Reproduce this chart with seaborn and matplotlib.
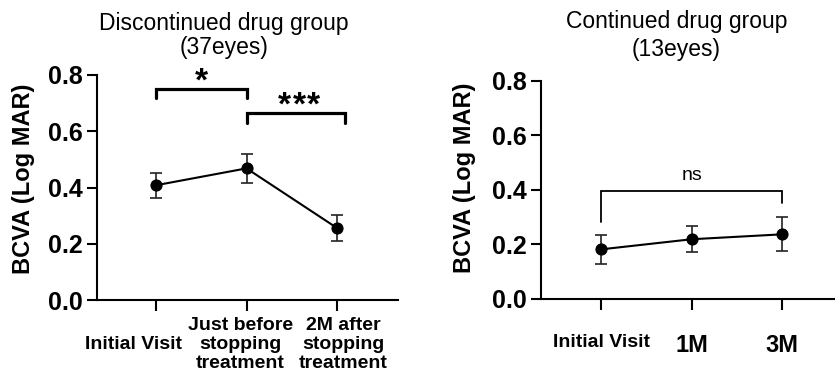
import numpy as np
import pandas as pd
import matplotlib
matplotlib.use("Agg")
import matplotlib.pyplot as plt
import matplotlib.transforms as mtransforms
import seaborn as sns

# ---------------- data ----------------
disc_labels = ["\nInitial Visit", "Just before\nstopping\ntreatment", "2M after\nstopping\ntreatment"]
disc_mean = [0.408, 0.468, 0.256]
disc_err = [0.045, 0.051, 0.046]

cont_labels = ["Initial Visit", "1M", "3M"]
cont_mean = [0.182, 0.219, 0.237]
cont_err = [0.052, 0.048, 0.062]

yticks = [0.0, 0.2, 0.4, 0.6, 0.8]
ylabel = "BCVA (Log MAR)"
title_left = ["Discontinued drug group", "(37eyes)"]
title_right = ["Continued drug group", "(13eyes)"]

# significance annotations: (start idx, end idx, bar y, leg y, number of stars, text x, text y)
sig_left = [(0, 1.0, 0.749, 0.717, 1, 0.5, 0.743),
            (1, 2.09, 0.664, 0.628, 3, 1.58, 0.661)]
sig_right = [(0, 2, 0.397, 0.283, 0.350, "ns", 0.436)]

# ---------------- style ----------------
sns.set_style("ticks")
plt.rcParams["font.family"] = ["Liberation Sans", "DejaVu Sans"]
plt.rcParams["axes.linewidth"] = 1.5
for k in ["text.color", "axes.labelcolor", "xtick.color", "ytick.color", "axes.edgecolor"]:
    plt.rcParams[k] = "black"

fig = plt.figure(figsize=(8.35, 3.82), dpi=100)
axL = fig.add_axes([97/835, 1-300/382, 301/835, 225/382])
axR = fig.add_axes([541/835, 1-299/382, 294/835, 218.3/382])


def draw(ax, means, errs):
    df = pd.DataFrame({"x": np.arange(len(means)), "y": means})
    sns.lineplot(data=df, x="x", y="y", ax=ax, color="black", lw=1.5,
                 marker="o", markersize=8, markeredgecolor="black", zorder=3)
    ax.errorbar(df["x"], df["y"], yerr=errs, fmt="none", ecolor="#222222",
                elinewidth=1.2, capsize=4, capthick=1.2, zorder=2)
    ax.set_ylim(0, 0.8)
    ax.set_yticks(yticks)
    ax.set_yticklabels([f"{v:.1f}" for v in yticks], fontsize=18, fontweight="bold")
    ax.set_xlabel("")
    ax.set_ylabel("")
    ax.tick_params(axis="y", length=7, width=1.5, pad=3)
    sns.despine(ax=ax)


draw(axL, disc_mean, disc_err)
draw(axR, cont_mean, cont_err)

axL.set_xlim(-0.652, 2.674)
axR.set_xlim(-0.667, 2.585)

# x tick labels
axL.set_xticks(range(len(disc_labels)))
axL.set_xticklabels(disc_labels, fontsize=14, fontweight="bold", linespacing=1.15)
axL.tick_params(axis="x", length=8, width=1.5, pad=4)
for lab, dx in zip(axL.get_xticklabels(), [-23, -6, 6]):
    lab.set_transform(lab.get_transform() +
                      mtransforms.ScaledTranslation(dx/100, 0, fig.dpi_scale_trans))

axR.set_xticks(range(len(cont_labels)))
axR.set_xticklabels(cont_labels, fontweight="bold")
for lab, fs in zip(axR.get_xticklabels(), [14, 17, 17]):
    lab.set_fontsize(fs)
axR.tick_params(axis="x", length=8, width=1.5, pad=17)

# significance brackets
star_pitch = 14.5  # px between star centres
for x0, x1, yb, yl, nstar, xt, yt in sig_left:
    axL.plot([x0, x0, x1, x1], [yl, yb, yb, yl], color="black", lw=2.3,
             solid_joinstyle="miter", clip_on=False)
    for i in range(nstar):
        off = (i - (nstar - 1) / 2) * star_pitch
        tr = axL.transData + mtransforms.ScaledTranslation(off/100, 0, fig.dpi_scale_trans)
        axL.text(xt, yt, "*", ha="center", va="baseline", fontsize=24,
                 fontweight="bold", clip_on=False, transform=tr)

for x0, x1, yb, yl0, yl1, txt, yt in sig_right:
    axR.plot([x0, x0, x1, x1], [yl0, yb, yb, yl1], color="black", lw=1.3,
             solid_joinstyle="miter", clip_on=False)
    axR.text((x0 + x1) / 2, yt, txt, ha="center", va="baseline", fontsize=14)

# y labels
fig.text(24/835, 1-178.5/382, ylabel, rotation=90, ha="center", va="center",
         fontsize=17, fontweight="bold")
fig.text(464/835, 1-177.5/382, ylabel, rotation=90, ha="center", va="center",
         fontsize=17, fontweight="bold")

# titles
fig.text(224/835, 1-30/382, title_left[0], ha="center", va="baseline", fontsize=16.5)
fig.text(224/835, 1-54/382, title_left[1], ha="center", va="baseline", fontsize=16.5)
fig.text(676.5/835, 1-28/382, title_right[0], ha="center", va="baseline", fontsize=16.5)
fig.text(676.5/835, 1-56/382, title_right[1], ha="center", va="baseline", fontsize=16.5)

fig.savefig("out.png", dpi=100)
